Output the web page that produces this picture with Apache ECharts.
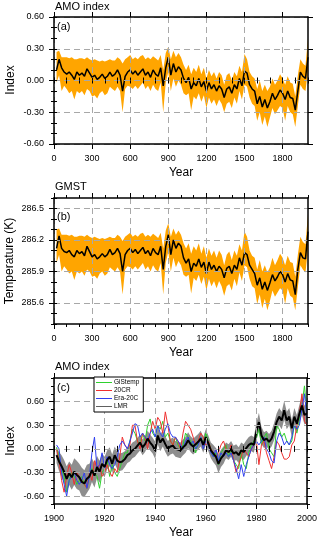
<!DOCTYPE html>
<html>
<head>
<meta charset="utf-8">
<script src="https://cdn.jsdelivr.net/npm/echarts@6/dist/echarts.min.js"></script>
<style>
  html, body { margin: 0; padding: 0; background: #fff; }
  #main { width: 320px; height: 541px; }
</style>
</head>
<body>
<div id="main"></div>
<script>
// ---- data ----
// panels (a)/(b): reconstruction every 20 years, year 20 .. 2000
var yearsLong = [];
for (var y = 20; y <= 2000; y += 20) yearsLong.push(y);

var amoMean = [
  0.10,0.20,0.12,0.08,0.06,0.08,0.05,0.01,0.08,0.05,
  0.07,0.04,0.11,0.07,0.03,0.05,0.01,0.03,0.06,0.02,
  0.04,0.08,0.04,0.06,0.10,0.05,-0.10,0.04,0.08,0.10,
  0.06,0.09,0.05,0.08,0.11,0.05,0.08,0.03,0.10,0.06,
  0.04,0.12,-0.05,0.12,0.22,0.05,0.16,0.08,0.13,0.10,
  0.02,-0.02,0.03,-0.08,-0.02,-0.05,0.02,-0.06,-0.01,-0.10,
  -0.02,-0.08,-0.04,-0.10,-0.05,-0.08,-0.16,-0.08,-0.06,-0.12,
  -0.04,-0.08,0.02,-0.05,0.09,0.07,-0.04,-0.08,-0.10,-0.22,
  -0.15,-0.25,-0.18,-0.26,-0.20,-0.12,-0.18,-0.14,-0.09,-0.12,
  -0.18,-0.10,-0.16,-0.17,-0.28,-0.10,0.08,0.04,0.02,0.22
];
var amoHigh = [
  0.27,0.28,0.22,0.22,0.22,0.21,0.22,0.20,0.20,0.21,
  0.21,0.20,0.22,0.20,0.19,0.20,0.19,0.18,0.19,0.18,
  0.19,0.20,0.19,0.19,0.22,0.20,0.16,0.20,0.22,0.24,
  0.20,0.22,0.20,0.23,0.24,0.20,0.22,0.20,0.23,0.21,
  0.19,0.24,0.10,0.26,0.32,0.20,0.28,0.22,0.26,0.22,
  0.15,0.10,0.15,0.06,0.12,0.08,0.15,0.06,0.12,0.02,
  0.10,0.04,0.08,0.02,0.08,0.05,-0.04,0.05,0.07,0.00,
  0.08,0.04,0.14,0.08,0.25,0.20,0.08,0.04,0.02,-0.08,
  0.00,-0.10,-0.04,-0.10,-0.06,0.02,-0.04,0.00,0.06,0.02,
  -0.04,0.04,-0.02,-0.03,-0.15,0.05,0.20,0.16,0.14,0.40
];
var amoLow = [
  -0.02,0.05,-0.10,-0.05,-0.08,-0.12,-0.10,-0.18,-0.10,-0.12,
  -0.10,-0.14,-0.08,-0.10,-0.15,-0.14,-0.17,-0.12,-0.10,-0.14,
  -0.12,-0.06,-0.08,-0.10,-0.06,-0.10,-0.30,-0.08,-0.05,-0.06,
  -0.08,-0.05,-0.08,-0.05,-0.02,-0.08,-0.05,-0.10,-0.04,-0.08,
  -0.10,-0.02,-0.30,-0.02,0.08,-0.10,0.02,-0.06,0.00,-0.04,
  -0.12,-0.14,-0.12,-0.28,-0.15,-0.18,-0.12,-0.20,-0.14,-0.26,
  -0.16,-0.22,-0.18,-0.24,-0.18,-0.22,-0.30,-0.22,-0.20,-0.26,
  -0.16,-0.22,-0.10,-0.18,-0.04,-0.06,-0.16,-0.22,-0.24,-0.38,
  -0.30,-0.42,-0.34,-0.44,-0.35,-0.26,-0.32,-0.28,-0.24,-0.26,
  -0.38,-0.24,-0.30,-0.32,-0.44,-0.24,-0.04,-0.08,-0.10,0.10
];

var gmstMean = [
  286.12,286.24,286.12,286.09,286.08,286.10,286.06,286.04,286.10,286.07,
  286.09,286.05,286.14,286.09,286.04,286.06,286.02,286.04,286.07,286.04,
  286.06,286.11,286.06,286.08,286.12,286.07,285.90,286.06,286.10,286.12,
  286.08,286.11,286.07,286.10,286.13,286.07,286.10,286.05,286.12,286.08,
  286.06,286.14,285.92,286.14,286.25,286.06,286.20,286.12,286.17,286.14,
  286.03,285.98,286.02,285.90,285.98,285.95,286.02,285.94,285.99,285.88,
  285.99,285.92,285.96,285.90,285.95,285.92,285.84,285.93,285.95,285.88,
  285.96,285.92,286.03,285.96,286.08,286.06,285.96,285.92,285.88,285.77,
  285.84,285.73,285.80,285.72,285.79,285.87,285.81,285.85,285.90,285.87,
  285.80,285.88,285.82,285.81,285.68,285.92,286.08,286.03,286.02,286.28
];
var gmstHigh = [
  286.30,286.31,286.25,286.25,286.25,286.24,286.25,286.23,286.23,286.24,
  286.24,286.23,286.25,286.23,286.22,286.23,286.22,286.21,286.22,286.21,
  286.22,286.23,286.22,286.22,286.25,286.23,286.19,286.23,286.25,286.27,
  286.23,286.25,286.23,286.26,286.27,286.23,286.25,286.23,286.26,286.24,
  286.22,286.27,286.12,286.29,286.36,286.23,286.31,286.25,286.29,286.25,
  286.17,286.12,286.17,286.07,286.14,286.10,286.17,286.07,286.14,286.03,
  286.12,286.05,286.10,286.03,286.10,286.06,285.96,286.06,286.09,286.01,
  286.10,286.05,286.16,286.10,286.28,286.23,286.10,286.05,286.03,285.92,
  286.01,285.90,285.96,285.89,285.94,286.03,285.96,286.01,286.07,286.03,
  285.96,286.05,285.99,285.98,285.85,286.06,286.23,286.18,286.16,286.45
];
var gmstLow = [
  285.98,286.06,285.90,285.95,285.92,285.88,285.90,285.82,285.90,285.88,
  285.90,285.86,285.92,285.90,285.85,285.86,285.83,285.88,285.90,285.86,
  285.88,285.94,285.92,285.90,285.94,285.90,285.68,285.92,285.95,285.94,
  285.92,285.95,285.92,285.95,285.98,285.92,285.95,285.90,285.96,285.92,
  285.90,285.98,285.68,285.98,286.09,285.90,286.03,285.94,286.00,285.96,
  285.87,285.85,285.87,285.69,285.84,285.81,285.87,285.78,285.85,285.72,
  285.83,285.76,285.81,285.74,285.81,285.76,285.67,285.76,285.78,285.72,
  285.83,285.76,285.89,285.81,285.96,285.94,285.83,285.76,285.74,285.59,
  285.68,285.55,285.64,285.53,285.62,285.72,285.66,285.70,285.74,285.72,
  285.59,285.74,285.67,285.65,285.53,285.75,285.96,285.92,285.89,286.12
];

// panel (c): annual 1901 .. 2000
var yearsC = [];
for (var k = 1901; k <= 2000; k++) yearsC.push(k);

var gistemp = [
  0.02,-0.10,-0.25,-0.35,-0.55,-0.40,-0.30,-0.35,-0.45,-0.40,
  -0.35,-0.45,-0.50,-0.35,-0.25,-0.30,-0.35,-0.50,-0.30,-0.25,
  -0.15,-0.35,-0.20,-0.30,-0.35,-0.25,-0.15,-0.05,-0.05,0.10,
  0.25,0.20,0.10,0.05,0.20,0.10,0.30,0.38,0.20,0.15,
  0.30,0.25,0.35,0.15,0.20,0.10,0.05,0.15,0.05,0.00,
  0.05,0.20,0.15,0.10,0.05,-0.05,0.10,0.15,0.05,0.20,
  0.10,0.00,-0.10,-0.05,-0.20,-0.05,0.00,0.05,-0.10,0.00,
  -0.15,-0.20,-0.25,-0.05,-0.20,-0.25,-0.05,0.05,0.10,0.15,
  0.25,0.05,0.15,0.20,0.00,-0.05,-0.10,0.30,0.25,0.15,
  0.20,0.10,0.05,0.10,0.30,0.20,0.35,0.55,0.80,0.45
];
var cr20 = [
  0.00,-0.15,-0.40,-0.55,-0.35,-0.20,-0.30,-0.45,-0.30,-0.35,
  -0.40,-0.45,-0.50,-0.30,-0.40,-0.15,-0.25,-0.20,-0.35,-0.30,
  -0.20,-0.30,-0.35,-0.25,-0.30,-0.10,0.15,0.05,0.00,0.05,
  0.30,0.30,0.10,0.00,0.20,0.15,0.00,0.20,0.35,0.25,
  0.40,0.35,0.20,0.47,0.30,0.10,0.05,0.15,0.10,0.00,
  0.20,0.35,0.30,0.25,0.15,0.05,0.10,0.20,0.15,0.05,
  0.10,0.00,-0.05,-0.10,-0.05,0.05,0.10,0.00,-0.05,0.05,
  -0.15,-0.30,-0.20,-0.10,0.00,-0.05,-0.10,0.00,0.05,0.10,
  -0.20,0.05,0.10,-0.05,-0.15,-0.25,-0.10,0.10,0.05,-0.05,
  -0.13,-0.13,-0.10,0.05,0.10,0.30,0.45,0.70,0.35,0.30
];
var era20c = [
  0.05,0.00,-0.30,-0.45,-0.60,-0.40,-0.35,-0.30,-0.40,-0.45,
  -0.40,-0.30,-0.50,-0.35,-0.05,0.15,-0.25,-0.20,-0.05,-0.25,
  -0.10,-0.20,-0.25,-0.20,-0.10,0.05,0.10,0.05,0.00,0.10,
  0.20,0.32,0.30,0.15,0.20,0.15,0.10,0.20,0.25,0.15,
  0.30,0.20,0.15,0.25,0.32,0.20,0.15,0.15,0.10,0.05,
  0.00,0.10,0.15,0.05,0.10,0.00,0.05,0.15,0.00,0.10,
  0.05,-0.05,-0.10,0.00,-0.15,-0.05,-0.10,-0.05,-0.10,-0.05,
  -0.15,-0.25,-0.38,-0.20,-0.35,-0.20,-0.10,0.00,0.05,0.10,
  0.05,0.10,0.15,0.00,-0.05,-0.15,-0.18,0.10,0.20,0.15,
  0.05,0.10,0.05,0.15,0.30,0.25,0.30,0.50,0.70,0.40
];
var lmr = [
  -0.08,-0.16,-0.22,-0.29,-0.38,-0.31,-0.36,-0.29,-0.33,-0.36,
  -0.42,-0.44,-0.38,-0.35,-0.27,-0.34,-0.23,-0.29,-0.19,-0.23,
  -0.14,-0.10,-0.19,-0.08,-0.15,-0.17,-0.16,-0.13,-0.08,-0.06,
  -0.02,0.00,0.04,0.08,0.02,0.06,0.13,0.08,0.04,-0.02,
  0.17,0.08,0.13,0.06,0.00,0.03,0.04,0.00,-0.01,-0.02,
  0.02,0.05,0.11,0.06,0.03,0.06,0.09,0.13,0.05,0.15,
  0.07,-0.02,-0.06,-0.10,-0.19,-0.12,-0.08,-0.02,-0.04,0.00,
  -0.06,-0.04,-0.08,-0.02,-0.04,0.01,0.05,0.07,0.05,0.22,
  0.34,0.17,0.11,0.13,0.09,0.13,0.22,0.34,0.41,0.36,
  0.49,0.36,0.41,0.26,0.41,0.32,0.45,0.55,0.43,0.45
];
// half width of the grey LMR spread
var lmrSpread = [
  0.10,0.12,0.14,0.15,0.16,0.15,0.16,0.17,0.18,0.17,
  0.18,0.17,0.18,0.16,0.15,0.15,0.14,0.14,0.13,0.13,
  0.12,0.12,0.12,0.11,0.11,0.11,0.11,0.10,0.10,0.10,
  0.10,0.10,0.10,0.10,0.10,0.10,0.10,0.10,0.10,0.11,
  0.11,0.11,0.10,0.10,0.10,0.10,0.10,0.10,0.10,0.10,
  0.10,0.10,0.10,0.10,0.10,0.10,0.10,0.10,0.10,0.10,
  0.10,0.10,0.11,0.11,0.12,0.11,0.11,0.10,0.10,0.10,
  0.10,0.10,0.10,0.10,0.10,0.10,0.10,0.10,0.10,0.11,
  0.12,0.11,0.10,0.10,0.10,0.10,0.11,0.11,0.11,0.11,
  0.12,0.11,0.11,0.11,0.11,0.11,0.11,0.12,0.12,0.12
];

var legendNames = ['GiStemp', '20CR', 'Era-20C', 'LMR'];

// tick positions
var xMajorLong = [0, 300, 600, 900, 1200, 1500, 1800];
var amoMajor = [-0.6, -0.3, 0, 0.3, 0.6];
var gmstMajor = [285.6, 285.9, 286.2, 286.5];
var xMajorC = [1900, 1920, 1940, 1960, 1980, 2000];

// ---- helpers ----
var FONT = 'Liberation Sans';

function steps(min, max, step) {
  var out = [];
  for (var v = min; v <= max + step / 1000; v += step) out.push(+v.toFixed(4));
  return out;
}
function pairs(xs, ys) {
  return xs.map(function (x, i) { return [x, ys[i]]; });
}

// four axes per side pair: labelled main, minor overlay, mirrored main, mirrored minor
function frameAxes(gi, sideA, sideB, min, max, majors, minors, fmt) {
  var line = { show: true, onZero: false, lineStyle: { color: '#000', width: 1.5 } };
  var base = { type: 'value', gridIndex: gi, min: min, max: max, z: 5 };
  function ax(pos, main, labelled) {
    return Object.assign({}, base, {
      position: pos,
      axisLine: main ? line : { show: false },
      axisTick: {
        show: true, inside: false, length: main ? 5 : 3,
        customValues: main ? majors : minors,
        lineStyle: { color: '#000', width: 1 }
      },
      axisLabel: labelled ? {
        customValues: majors, formatter: fmt, margin: 10,
        fontSize: 9, color: '#000', fontFamily: FONT
      } : { show: false },
      splitLine: labelled ? { show: true, lineStyle: { color: '#a8a8a8', width: 1, type: [6, 4] } } : { show: false }
    });
  }
  return [ax(sideA, true, true), ax(sideA, false, false), ax(sideB, true, false), ax(sideB, false, false)];
}

function fix2(v) { return v.toFixed(2); }
function fix1(v) { return v.toFixed(1); }
function int0(v) { return String(Math.round(v)); }

var xAxes = []
  .concat(frameAxes(0, 'bottom', 'top', 0, 2000, xMajorLong, steps(0, 2000, 100), int0))
  .concat(frameAxes(1, 'bottom', 'top', 0, 2000, xMajorLong, steps(0, 2000, 100), int0))
  .concat(frameAxes(2, 'bottom', 'top', 1900, 2000, xMajorC, steps(1900, 2000, 5), int0));
var yAxes = []
  .concat(frameAxes(0, 'left', 'right', -0.6, 0.6, amoMajor, steps(-0.6, 0.6, 0.1), fix2))
  .concat(frameAxes(1, 'left', 'right', 285.4, 286.6, gmstMajor, steps(285.4, 286.6, 0.1), fix1))
  .concat(frameAxes(2, 'left', 'right', -0.7, 0.9, amoMajor, steps(-0.7, 0.9, 0.1), fix2));

// uncertainty band as one polygon, placed through the axes of its grid
function band(gi, xs, lo, hi, color) {
  return {
    type: 'custom', xAxisIndex: gi * 4, yAxisIndex: gi * 4, silent: true, animation: false,
    clip: true,
    data: xs.map(function (x, i) { return [x, lo[i], hi[i]]; }),
    encode: { x: 0, y: [1, 2] },
    renderItem: function (params, api) {
      if (params.dataIndex !== 0) return null;
      var top = [], bot = [];
      for (var i = 0; i < xs.length; i++) {
        top.push(api.coord([xs[i], hi[i]]));
        bot.push(api.coord([xs[i], lo[i]]));
      }
      return { type: 'polygon', shape: { points: top.concat(bot.reverse()) }, style: { fill: color } };
    }
  };
}
function curve(gi, name, xs, ys, color, width) {
  return {
    type: 'line', name: name, xAxisIndex: gi * 4, yAxisIndex: gi * 4, data: pairs(xs, ys),
    symbol: 'none', color: color, lineStyle: { color: color, width: width }, animation: false
  };
}

var lmrLo = lmr.map(function (v, i) { return +(v - lmrSpread[i]).toFixed(3); });
var lmrHi = lmr.map(function (v, i) { return +(v + lmrSpread[i]).toFixed(3); });

var series = [
  band(0, yearsLong, amoLow, amoHigh, '#ffa500'),
  curve(0, 'amoMean', yearsLong, amoMean, '#000', 1.5),
  band(1, yearsLong, gmstLow, gmstHigh, '#ffa500'),
  curve(1, 'gmstMean', yearsLong, gmstMean, '#000', 1.5),
  band(2, yearsC, lmrLo, lmrHi, '#8e8e8e'),
  curve(2, 'GiStemp', yearsC, gistemp, '#2ed12e', 1),
  curve(2, '20CR', yearsC, cr20, '#f03030', 1),
  curve(2, 'Era-20C', yearsC, era20c, '#3040f0', 1),
  curve(2, 'LMR', yearsC, lmr, '#000', 2)
];

function label(text, x, y, size, rot, align) {
  return {
    type: 'text', x: x, y: y, rotation: rot || 0, silent: true,
    style: { text: text, fontSize: size, fontFamily: FONT, fill: '#000',
      align: align || 'left', verticalAlign: 'middle' }
  };
}

var chart = echarts.init(document.getElementById('main'), null, { renderer: 'canvas' });
chart.setOption({
  backgroundColor: '#fff',
  animation: false,
  grid: [
    { left: 54, top: 17, width: 254, height: 127 },
    { left: 54, top: 198, width: 254, height: 126 },
    { left: 54, top: 378, width: 254, height: 126 }
  ],
  xAxis: xAxes,
  yAxis: yAxes,
  legend: {
    data: [
      { name: legendNames[0] },
      { name: legendNames[1] },
      { name: legendNames[2] },
      { name: legendNames[3], itemStyle: { color: '#606060' } }
    ],
    left: 94, top: 377, orient: 'vertical', icon: 'rect', z: 10,
    itemWidth: 16, itemHeight: 1, itemGap: 1,
    padding: [2, 4, 2, 2],
    backgroundColor: '#fff', borderColor: '#000', borderWidth: 1,
    selectedMode: false,
    textStyle: { fontSize: 6.5, color: '#000', fontFamily: FONT, padding: [0, 0, 0, -3] }
  },
  graphic: [
    label('AMO index', 55, 7, 11),
    label('(a)', 57, 27, 11),
    label('Index', 11, 80, 12, Math.PI / 2, 'center'),
    label('Year', 181, 173, 12, 0, 'center'),
    label('GMST', 55, 187, 11),
    label('(b)', 57, 217, 11),
    label('Temperature (K)', 10, 261, 12, Math.PI / 2, 'center'),
    label('Year', 181, 353, 12, 0, 'center'),
    label('AMO index', 55, 367, 11),
    label('(c)', 57, 388, 11),
    label('Index', 11, 441, 12, Math.PI / 2, 'center'),
    label('Year', 181, 533, 12, 0, 'center')
  ],
  series: series
});
</script>
</body>
</html>
